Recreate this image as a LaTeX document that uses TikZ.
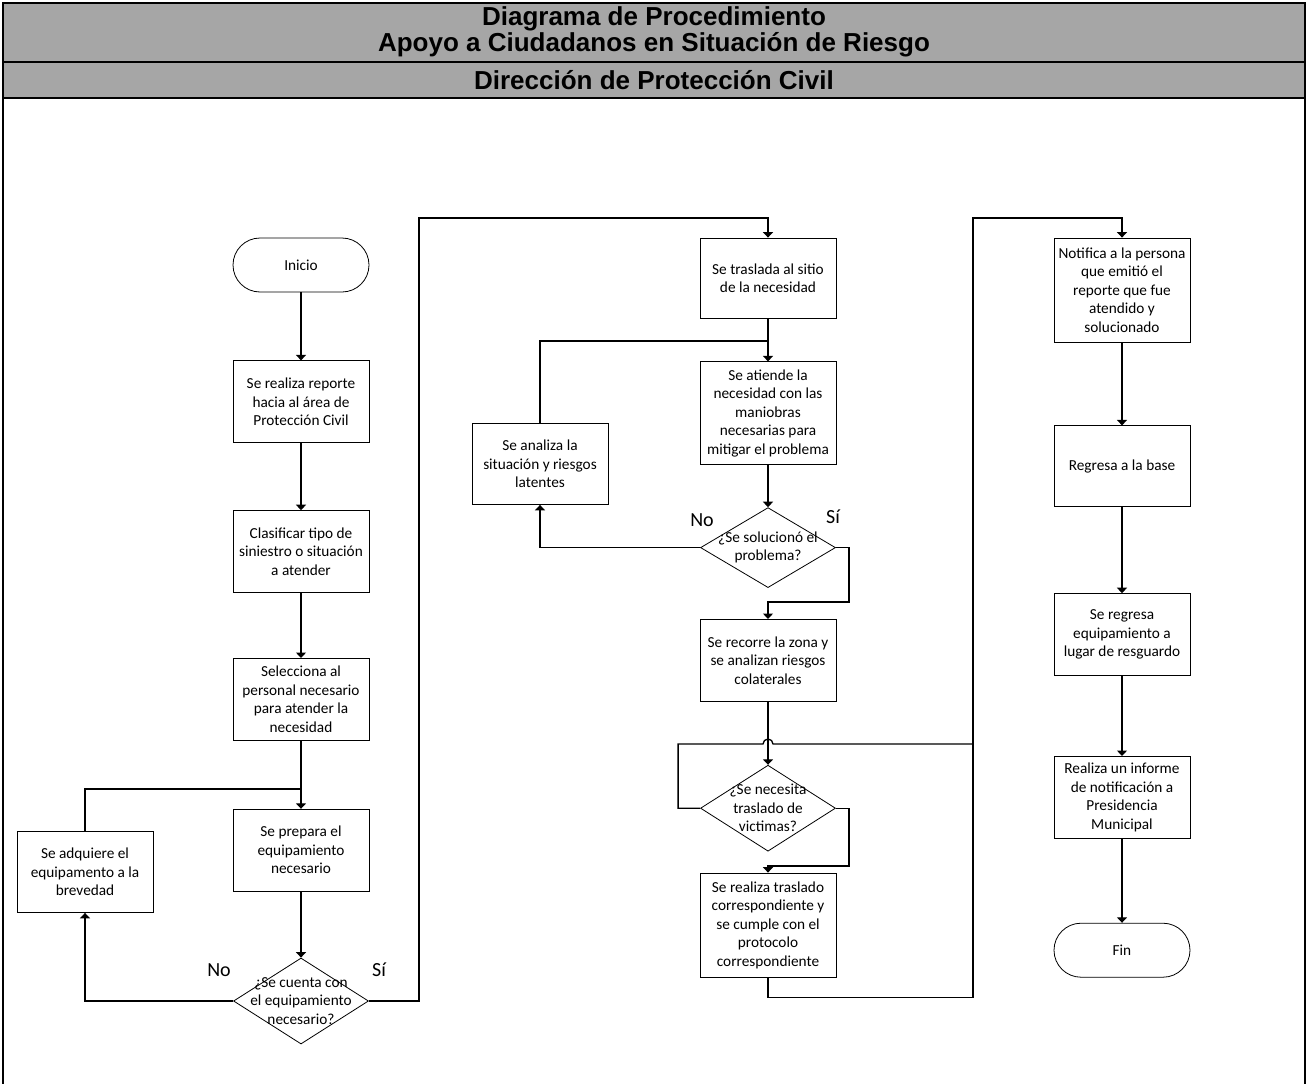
\documentclass[tikz,border=0pt]{standalone}
\usepackage{fontspec}
\setmainfont{Carlito}
\newfontfamily\headfont{Liberation Sans}
\usepackage{tikz}
\usetikzlibrary{arrows.meta, positioning, shapes.geometric}
\definecolor{headgray}{HTML}{A6A6A6}

\begin{document}
\begin{tikzpicture}[x=1pt, y=-1pt,
      proc/.style={draw, line width=0.8pt, minimum width=136pt, minimum height=82pt, inner sep=2pt, align=center, font=\fontsize{15.3}{18.5}\selectfont},
      term/.style={proc, rounded corners=27pt, minimum height=54pt},
      decision/.style={draw, diamond, line width=0.8pt, minimum width=135pt, minimum height=86pt, inner sep=0pt},
      dtext/.style={align=center, inner sep=0pt, font=\fontsize{15.3}{18.5}\selectfont},
      title/.style={inner sep=0pt, align=center, font=\headfont\bfseries\fontsize{26}{23}\selectfont},
      answer/.style={font=\fontsize{20}{24}\selectfont},
      arrow/.style={-{Triangle[length=5.5pt, width=10pt]}, line width=1.3pt},
      link/.style={line width=1.3pt}
    ]
      \useasboundingbox (0,0) rectangle (1307,1084);

      % header
      \fill[headgray] (3,3) rectangle (1305,98);
      \draw[line width=2pt] (3,62) -- (1305,62);
      \draw[line width=2.5pt] (3,98) -- (1305,98);
      \draw[line width=2.5pt] (3,1090) -- (3,3) -- (1305,3) -- (1305,1090);
      \node[title] (title) at (654,32) {Diagrama de Procedimiento\\Apoyo a Ciudadanos en Situación de Riesgo};
      \node[title, anchor=base] (dept) at (654,89) {Dirección de Protección Civil};

      % first column
      \node[term] (inicio) at (301,265) {Inicio};
      \node[proc, below=68pt of inicio] (reporte) {Se realiza reporte\\hacia al área de\\Protección Civil};
      \node[proc, below=67pt of reporte] (clasificar) {Clasificar tipo de\\siniestro o situación\\a atender};
      \node[proc, below=65pt of clasificar] (personal) {Selecciona al\\personal necesario\\para atender la\\necesidad};
      \node[proc, below=68pt of personal] (prepara) {Se prepara el\\equipamiento\\necesario};
      \node[decision, below=66pt of prepara, label={[dtext]center:{¿Se cuenta con\\el equipamiento\\necesario?}}] (cuenta) {};
      \node[proc, minimum height=81pt] (adquiere) at (85,872) {Se adquiere el\\equipamento a la\\brevedad};

      % second column
      \node[proc, minimum height=80pt] (traslada) at (768,278) {Se traslada al sitio\\de la necesidad};
      \node[proc, minimum height=103pt, below=43pt of traslada] (atiende) {Se atiende la\\necesidad con las\\maniobras\\necesarias para\\mitigar el problema};
      \node[decision, minimum height=80pt, below=42pt of atiende, label={[dtext]center:{¿Se solucionó el\\problema?}}] (soluciono) {};
      \node[proc, minimum height=81pt] (analiza) at (540,464) {Se analiza la\\situación y riesgos\\latentes};
      \node[proc, below=31pt of soluciono] (recorre) {Se recorre la zona y\\se analizan riesgos\\colaterales};
      \node[decision, below=63pt of recorre, label={[dtext]center:{¿Se necesita\\traslado de\\victimas?}}] (necesita) {};
      \node[proc, minimum height=104pt, below=21pt of necesita] (traslado) {Se realiza traslado\\correspondiente y\\se cumple con el\\protocolo\\correspondiente};

      % third column
      \node[proc, minimum height=104pt] (notifica) at (1122,290) {Notifica a la persona\\que emitió el\\reporte que fue\\atendido y\\solucionado};
      \node[proc, minimum height=81pt, below=83pt of notifica] (base) {Regresa a la base};
      \node[proc, below=86pt of base] (resguardo) {Se regresa\\equipamiento a\\lugar de resguardo};
      \node[proc, below=80pt of resguardo] (informe) {Realiza un informe\\de notificación a\\Presidencia\\Municipal};
      \node[term, below=84pt of informe] (fin) {Fin};

      % answers
      \node[answer] (no1) at (219,970) {No};
      \node[answer] (si1) at (379,970) {Sí};
      \node[answer] (no2) at (702,520) {No};
      \node[answer] (si2) at (833,517) {Sí};

      % bends
      \coordinate (joinA) at (301,789);
      \coordinate (upA) at (419,218);
      \coordinate (joinB) at (768,341);
      \coordinate (siB) at (849,602);
      \coordinate (siC) at (849,866);
      \coordinate (hop) at (763,744);
      \coordinate (upB) at (973,218);

      % first column flow
      \draw[arrow] (inicio) -- (reporte);
      \draw[arrow] (reporte) -- (clasificar);
      \draw[arrow] (clasificar) -- (personal);
      \draw[arrow] (personal) -- (prepara);
      \draw[arrow] (prepara) -- (cuenta);
      \draw[arrow] (cuenta.west) -| (adquiere.south);
      \draw[link] (adquiere.north) |- (joinA);
      \draw[arrow] (cuenta.east) -| (upA) -- (traslada.north |- upA) -- (traslada.north);

      % second column flow
      \draw[arrow] (traslada) -- (atiende);
      \draw[arrow] (atiende) -- (soluciono);
      \draw[arrow] (soluciono.west) -| (analiza.south);
      \draw[link] (analiza.north) |- (joinB);
      \draw[arrow] (soluciono.east) -| (siB) -- (recorre.north |- siB) -- (recorre.north);
      \draw[arrow] (recorre) -- (necesita);
      \draw[link] (necesita.west) -- ++(-22,0) |- (hop) arc (180:360:5) -- (upB |- hop);
      \draw[arrow] (necesita.east) -| (siC) -- (traslado.north |- siC) -- (traslado.north);
      \draw[arrow] (traslado.south) -- ++(0,20) -| (upB) -- (notifica.north |- upB) -- (notifica.north);

      % third column flow
      \draw[arrow] (notifica) -- (base);
      \draw[arrow] (base) -- (resguardo);
      \draw[arrow] (resguardo) -- (informe);
      \draw[arrow] (informe) -- (fin);
    \end{tikzpicture}
\end{document}
